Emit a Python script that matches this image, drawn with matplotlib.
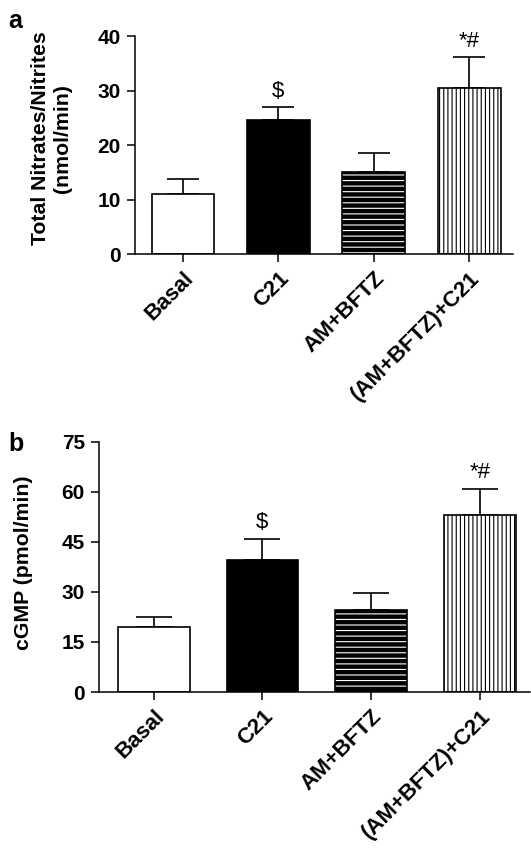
import numpy as np
import matplotlib
matplotlib.use('Agg')
import matplotlib.pyplot as plt

plt.rcParams['font.family'] = ['Liberation Sans', 'DejaVu Sans']
plt.rcParams['hatch.linewidth'] = 0.8

# data
groups = ['Basal', 'C21', 'AM+BFTZ', '(AM+BFTZ)+C21']
no_mean = [11.0, 24.6, 15.0, 30.5]
no_err = [2.8, 2.4, 3.5, 5.6]
cgmp_mean = [19.4, 39.6, 24.6, 53.1]
cgmp_err = [3.2, 6.2, 5.1, 7.9]
marks = ['', '$', '', '*#']

faces = ['white', 'black', 'black', 'white']
hatches = [None, None, '---', '||||']
hatch_cols = ['black', 'black', 'white', 'black']

fig = plt.figure(figsize=(5.31, 8.51), dpi=100)
ax_a = fig.add_axes([0.254, 0.7015, 0.712, 0.256])
ax_b = fig.add_axes([0.186, 0.1868, 0.812, 0.294])


def draw(ax, means, errs, ymax, step, ylabel, capsize, mark_off, lab_xy):
    x = np.arange(len(groups))
    # filled bars with hatch (hatch colour comes from edgecolor)
    ax.bar(x, means, width=0.66, color=faces, edgecolor=hatch_cols,
           hatch=hatches, linewidth=0, zorder=2)
    # outlines
    ax.bar(x, means, width=0.66, fill=False, edgecolor='black',
           linewidth=1.2, zorder=3)
    ax.errorbar(x, means, yerr=[np.zeros(len(x)), errs], fmt='none',
                ecolor='black', elinewidth=1.2, capsize=capsize,
                capthick=1.2, zorder=1)
    for xi, m, e, t in zip(x, means, errs, marks):
        if t:
            ax.text(xi, m + e + mark_off, t, ha='center', va='bottom',
                    fontsize=16)
    ax.set_xlim(-0.505, 3.46)
    ax.set_ylim(0, ymax)
    ax.set_yticks(np.arange(0, ymax + 1, step))
    ax.set_xticks(x)
    ax.set_xticklabels(groups, rotation=45, ha='right',
                       rotation_mode='anchor', fontweight='bold', fontsize=16)
    ax.tick_params(axis='y', labelsize=15, width=1.1, length=6, pad=4)
    ax.tick_params(axis='x', width=1.1, length=6, pad=4)
    for lab in ax.get_yticklabels():
        lab.set_fontweight('bold')
    ax.spines['top'].set_visible(False)
    ax.spines['right'].set_visible(False)
    ax.spines['left'].set_linewidth(1.1)
    ax.spines['bottom'].set_linewidth(1.1)
    ax.set_ylabel(ylabel, fontweight='bold', fontsize=15.3)
    ax.yaxis.set_label_coords(*lab_xy)


draw(ax_a, no_mean, no_err, 40, 10, 'Total Nitrates/Nitrites\n(nmol/min)',
     11.5, 1.0, (-0.167, 0.53))
draw(ax_b, cgmp_mean, cgmp_err, 75, 15, 'cGMP (pmol/min)', 13.3, 1.8,
     (-0.153, 0.516))

fig.text(8 / 531, 1 - 21 / 851, 'a', fontsize=18, fontweight='bold',
         ha='left', va='center')
fig.text(8 / 531, 1 - 444 / 851, 'b', fontsize=18, fontweight='bold',
         ha='left', va='center')

fig.savefig('out.png', dpi=100)
